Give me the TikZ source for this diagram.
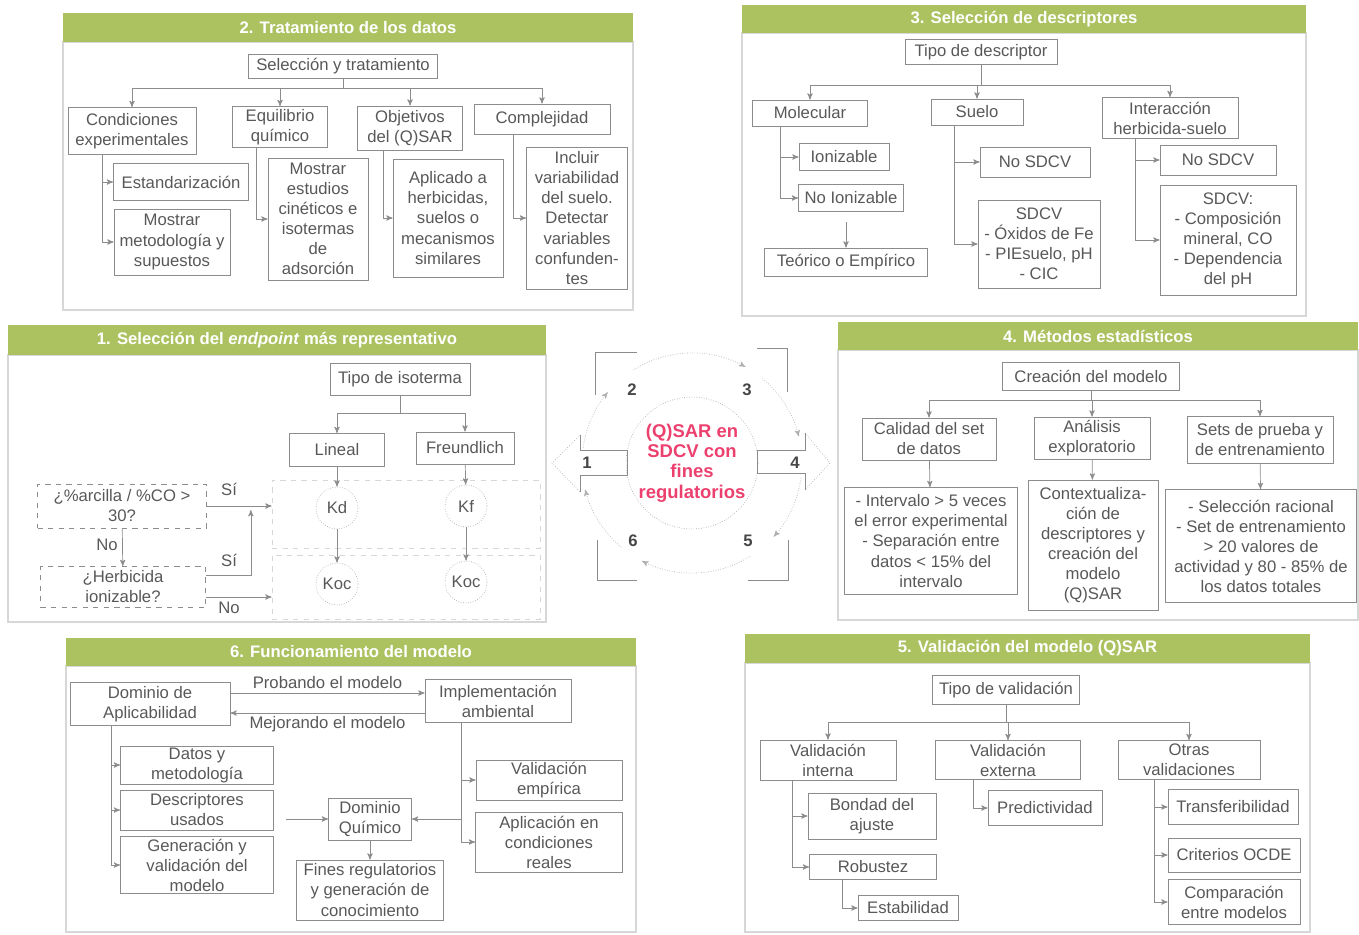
\documentclass[tikz,border=0pt]{standalone}
\usepackage{fontspec}
\setmainfont{Liberation Sans}
\usetikzlibrary{arrows}
\usetikzlibrary{calc}
\definecolor{hgreen}{RGB}{172,194,96}
\definecolor{boxgray}{RGB}{140,140,140}
\definecolor{txtgray}{RGB}{88,88,88}
\definecolor{framegray}{RGB}{215,215,215}
\definecolor{numgray}{RGB}{70,70,70}
\definecolor{qpink}{RGB}{236,64,110}
\newcommand\boxfont{\fontsize{9.5}{11.4}\selectfont}
\newcommand\cenfont{\fontsize{10.5}{11.6}\selectfont}

\begin{document}
\begin{tikzpicture}[x=0.02cm, y=-0.02cm,
 panel/.style={draw=framegray, line width=0.6pt, inner sep=0pt},
 head/.style={fill=hgreen, text=white, font=\bfseries\boxfont, inner sep=0pt},
 box/.style={draw=boxgray, text=txtgray, font=\boxfont, align=center, inner sep=0pt},
 qbox/.style={box, dashed},
 rowbox/.style={draw=framegray, dashed, inner sep=0pt},
 kcirc/.style={circle, draw=boxgray!70, densely dotted, text=txtgray, font=\boxfont, inner sep=0pt, minimum size=42*0.02cm},
 conn/.style={draw=boxgray, ->, >=stealth'},
 lbl/.style={text=txtgray, font=\boxfont, inner sep=2pt},
 num/.style={text=numgray, font=\bfseries\boxfont, inner sep=0pt},
 cyc/.style={draw=boxgray!70, densely dotted},
 brk/.style={draw=boxgray},
 wh/.style 2 args={minimum width=#1*0.02cm, minimum height=#2*0.02cm}]
\useasboundingbox (0,0) rectangle (1359,934);

% panel frames and headers
\node[panel, wh={570}{268}] (f2) at (348,176) {};
\node[head, wh={570}{29}] (h2) at (348,27.5) {2. Tratamiento de los datos};
\node[panel, wh={564}{283}] (f3) at (1024,174.5) {};
\node[head, wh={564}{28}] (h3) at (1024,19) {3. Selección de descriptores};
\node[panel, wh={538}{267}] (f1) at (277,488.5) {};
\node[head, wh={538}{30}] (h1) at (277,340) {1. Selección del \textit{endpoint} más representativo};
\node[panel, wh={520}{270}] (f4) at (1098,485) {};
\node[head, wh={520}{28}] (h4) at (1098,336) {4. Métodos estadísticos};
\node[panel, wh={570}{266}] (f6) at (351,799) {};
\node[head, wh={570}{28}] (h6) at (351,652) {6. Funcionamiento del modelo};
\node[panel, wh={565}{269}] (f5) at (1027.5,797.5) {};
\node[head, wh={565}{29}] (h5) at (1027.5,648.5) {5. Validación del modelo (Q)SAR};

% 2. Tratamiento de los datos
\node[box, wh={189}{24}] (sel) at (343,66) {Selección y tratamiento};
\node[box, wh={128}{47}] (cond) at (132,131) {Condiciones\\experimentales};
\node[box, wh={95}{41}] (equi) at (280,127) {Equilibrio\\químico};
\node[box, wh={105}{44}] (obj) at (410,128) {Objetivos\\del (Q)SAR};
\node[box, wh={136}{30}] (comp) at (542,119) {Complejidad};
\node[box, wh={135}{37}] (estand) at (181,182) {Estandarización};
\node[box, wh={116}{66}] (metod) at (172,242) {Mostrar\\metodología y\\supuestos};
\node[box, wh={100}{122}] (cinet) at (318,219) {Mostrar\\estudios\\cinéticos e\\isotermas\\de\\adsorción};
\node[box, wh={110}{118}] (aplic) at (448,218) {Aplicado a\\herbicidas,\\suelos o\\mecanismos\\similares};
\node[box, wh={101}{142}] (incl) at (577,218) {Incluir\\variabilidad\\del suelo.\\Detectar\\variables\\confunden-\\tes};
\foreach \n in {cond, equi, obj, comp}
  \draw[conn] (sel.south) -- ++(0,10) -| (\n.north);
\draw[conn] ($(cond.south west)+(35,0)$) |- (estand.west);
\draw[conn] ($(cond.south west)+(35,0)$) |- (metod.west);
\draw[conn] ($(equi.south west)+(24,0)$) |- (cinet.west);
\draw[conn] ($(obj.south west)+(26,0)$) |- (aplic.west);
\draw[conn] ($(comp.south west)+(40,0)$) |- (incl.west);

% 3. Selección de descriptores
\node[box, wh={152}{25}] (tdesc) at (981,52) {Tipo de descriptor};
\node[box, wh={115}{26}] (molec) at (810,113) {Molecular};
\node[box, wh={92}{26}] (suelo) at (977,112) {Suelo};
\node[box, wh={136}{41}] (inter) at (1170,118) {Interacción\\herbicida-suelo};
\node[box, wh={90}{27}] (ioniz) at (844,157) {Ionizable};
\node[box, wh={105}{27}] (noion) at (851,198) {No Ionizable};
\node[box, wh={163}{28}] (teor) at (846,262) {Teórico o Empírico};
\node[box, wh={110}{30}] (nosdA) at (1035,162) {No SDCV};
\node[box, wh={122}{88}] (sdcvA) at (1039,244) {SDCV\\- Óxidos de Fe\\- PIEsuelo, pH\\- CIC};
\node[box, wh={116}{30}] (nosdB) at (1218,160) {No SDCV};
\node[box, wh={136}{110}] (sdcvB) at (1228,240) {SDCV:\\- Composición\\mineral, CO\\- Dependencia\\del pH};
\foreach \n in {molec, suelo, inter}
  \draw[conn] (tdesc.south) -- ++(0,20) -| (\n.north);
\draw[conn] ($(molec.south west)+(28,0)$) |- (ioniz.west);
\draw[conn] ($(molec.south west)+(28,0)$) |- (noion.west);
\draw[conn] ([yshift=-6pt]noion.south -| teor.north) -- (teor.north);
\draw[conn] ($(suelo.south west)+(24,0)$) |- (nosdA.west);
\draw[conn] ($(suelo.south west)+(24,0)$) |- (sdcvA.west);
\draw[conn] ($(inter.south west)+(34,0)$) |- (nosdB.west);
\draw[conn] ($(inter.south west)+(34,0)$) |- (sdcvB.west);

% 1. Selección del endpoint
\node[rowbox, wh={268}{68}] (rowk) at (406,514) {};
\node[rowbox, wh={268}{64}] (rowkoc) at (406,587) {};
\node[box, wh={140}{32}] (tiso) at (400,379) {Tipo de isoterma};
\node[box, wh={95}{33}] (lin) at (337,450) {Lineal};
\node[box, wh={98}{32}] (freu) at (465,448) {Freundlich};
\node[kcirc] (kd) at (337,508) {Kd};
\node[kcirc] (kf) at (466,506) {Kf};
\node[kcirc] (kocA) at (337,584) {Koc};
\node[kcirc] (kocB) at (466,582) {Koc};
\node[qbox, wh={169}{44}] (arc) at (122,506) {¿\%arcilla / \%CO >\\30?};
\node[qbox, wh={165}{41}] (herb) at (123,587) {¿Herbicida\\ionizable?};
\foreach \n in {lin, freu}
  \draw[conn] (tiso.south) -- ++(0,18) -| (\n.north);
\draw[conn] (lin) -- (kd);
\draw[conn] (kd) -- (kocA);
\draw[conn] (freu) -- (kf);
\draw[conn] (kf) -- (kocB);
\draw[conn] (arc.east) -- (arc.east -| rowk.west);
\draw[conn] (arc) -- (herb);
\coordinate (hs) at ($(herb.east)+(0,-12)$);
\coordinate (hn) at ($(herb.east)+(0,10)$);
\draw[conn] (hs) -| ($(arc.east)+(44,4)$);
\draw[conn] (hn) -- (hn -| rowkoc.west);
\node[lbl] (siA) at (229,489) {Sí};
\node[lbl] (noA) at (107,545) {No};
\node[lbl] (siB) at (229,560) {Sí};
\node[lbl] (noB) at (229,608) {No};

% 4. Métodos estadísticos
\node[box, wh={177}{28}] (crea) at (1091,376) {Creación del modelo};
\node[box, wh={134}{42}] (cal) at (929,439) {Calidad del set\\de datos};
\node[box, wh={116}{42}] (ana) at (1092,438) {Análisis\\exploratorio};
\node[box, wh={146}{47}] (sets) at (1260,440) {Sets de prueba y\\de entrenamiento};
\node[box, wh={173}{107}] (intv) at (931,541) {- Intervalo > 5 veces\\el error experimental\\- Separación entre\\datos < 15\% del\\intervalo};
\node[box, wh={130}{130}] (cont) at (1093,545) {Contextualiza-\\ción de\\descriptores y\\creación del\\modelo\\(Q)SAR};
\node[box, wh={191}{113}] (selr) at (1261,546) {- Selección racional\\- Set de entrenamiento\\> 20 valores de\\actividad y 80 - 85\% de\\los datos totales};
\foreach \n in {cal, ana, sets}
  \draw[conn] (crea.south) -- ++(0,10) -| (\n.north);
\draw[conn] (cal) -- (intv);
\draw[conn] (ana) -- (cont);
\draw[conn] (sets) -- (selr);

% 6. Funcionamiento del modelo
\node[box, wh={160}{43}] (dom) at (150,704) {Dominio de\\Aplicabilidad};
\node[box, wh={146}{43}] (impl) at (498,701) {Implementación\\ambiental};
\node[box, wh={153}{38}] (datos) at (197,765) {Datos y\\metodología};
\node[box, wh={153}{40}] (desc) at (197,810) {Descriptores\\usados};
\node[box, wh={153}{57}] (gen) at (197,865) {Generación y\\validación del\\modelo};
\node[box, wh={83}{42}] (domq) at (370,819) {Dominio\\Químico};
\node[box, wh={146}{40}] (valemp) at (549,780) {Validación\\empírica};
\node[box, wh={147}{60}] (aplc) at (549,842) {Aplicación en\\condiciones\\reales};
\node[box, wh={147}{60}] (fines) at (370,890) {Fines regulatorios\\y generación de\\conocimiento};
\coordinate (pa) at ($(dom.east)+(0,-11)$);
\coordinate (pb) at ($(impl.west)+(0,12)$);
\draw[conn] (pa) -- (pa -| impl.west) node[lbl, midway, above] (prob) {Probando el modelo};
\draw[conn] (pb) -- (pb -| dom.east) node[lbl, midway, below] (mejo) {Mejorando el modelo};
\foreach \n in {datos, desc, gen}
  \draw[conn] ($(dom.south west)+(42,0)$) |- (\n.west);
\coordinate (it) at ($(impl.south west)+(37,0)$);
\foreach \n in {valemp, aplc}
  \draw[conn] (it) |- (\n.west);
\coordinate (dq) at ($(desc.east)+(12,9)$);
\draw[conn] (dq) -- (dq -| domq.west);
\draw[conn] (it |- domq.east) -- (domq.east);
\draw[conn] (domq) -- (fines);

% 5. Validación del modelo
\node[box, wh={147}{29}] (tval) at (1006,690) {Tipo de validación};
\node[box, wh={136}{40}] (vint) at (828,760) {Validación\\interna};
\node[box, wh={145}{39}] (vext) at (1008,760) {Validación\\externa};
\node[box, wh={142}{39}] (otras) at (1189,760) {Otras\\validaciones};
\node[box, wh={128}{46}] (bond) at (872,816) {Bondad del\\ajuste};
\node[box, wh={127}{25}] (rob) at (873,867) {Robustez};
\node[box, wh={100}{25}] (estab) at (908,908) {Estabilidad};
\node[box, wh={114}{35}] (pred) at (1045,808) {Predictividad};
\node[box, wh={130}{35}] (trans) at (1233,807) {Transferibilidad};
\node[box, wh={132}{34}] (ocde) at (1234,855) {Criterios OCDE};
\node[box, wh={132}{45}] (compm) at (1234,902) {Comparación\\entre modelos};
\foreach \n in {vint, vext, otras}
  \draw[conn] (tval.south) -- ++(0,17.5) -| (\n.north);
\foreach \n in {bond, rob}
  \draw[conn] ($(vint.south west)+(33,0)$) |- (\n.west);
\draw[conn] ($(rob.south west)+(33,0)$) |- (estab.west);
\draw[conn] ($(vext.south west)+(38,0)$) |- (pred.west);
\foreach \n in {trans, ocde, compm}
  \draw[conn] ($(otras.south west)+(37,0)$) |- (\n.west);

% ciclo central
\coordinate (c) at (692,463);
\node[circle, cyc, minimum size=130*0.02cm, text=qpink, font=\bfseries\cenfont, align=center, inner sep=0pt] (cen) at (c) {(Q)SAR en\\SDCV con\\fines\\regulatorios};
\foreach \a/\b in {-172/-140, -122/-61, -50/-14, 8/42, 58/117, 130/166}
  \draw[cyc, ->, >=stealth'] ($(c)+(\a:110)$) arc[start angle=\a, end angle=\b, radius=110];
\draw[cyc] (580,435) -- (552,463) -- (580,492);
\draw[cyc] (805,433) -- (830,463) -- (805,490);
\draw[brk] (595,395) -- (595,352) -- (637,352);
\draw[brk] (757,348) -- (787,348) -- (787,392);
\draw[brk] (580,435) -- (580,450) -- (627,450) -- (627,475) -- (580,475) -- (580,492);
\draw[brk] (805,433) -- (805,450) -- (757,450) -- (757,473) -- (805,473) -- (805,490);
\draw[brk] (597,540) -- (597,580) -- (637,580);
\draw[brk] (788,540) -- (788,580) -- (748,580);
\node[num] (n1) at (587,463) {1};
\node[num] (n2) at (632,390) {2};
\node[num] (n3) at (747,390) {3};
\node[num] (n4) at (795,463) {4};
\node[num] (n5) at (748,541) {5};
\node[num] (n6) at (633,541) {6};
\end{tikzpicture}
\end{document}
